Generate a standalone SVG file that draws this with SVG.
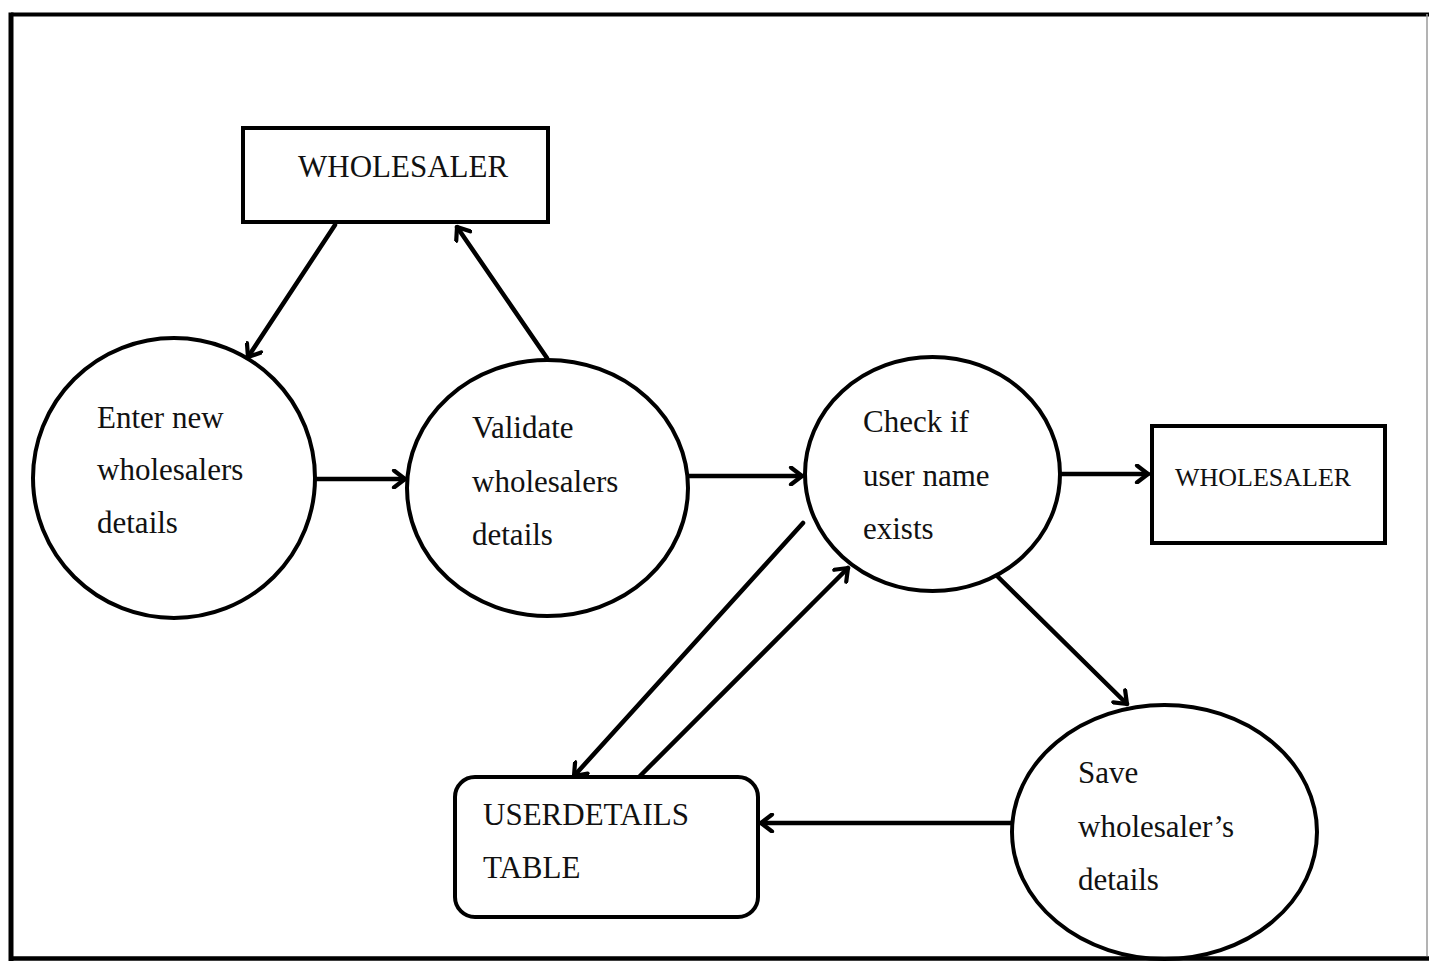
<svg xmlns="http://www.w3.org/2000/svg" width="1429" height="961" viewBox="0 0 1429 961">
  <style>
    .shape { fill: #ffffff; stroke: #000000; stroke-width: 4; }
    .flow { fill: none; stroke: #000000; stroke-width: 4.5; stroke-linecap: round; }
    .label { font-family: "Liberation Serif", "Times New Roman", serif; font-size: 31px; fill: #111111; }
    .small { font-size: 26px; }
  </style>
  <defs>
    <marker id="arrow" viewBox="0 0 20 20" refX="15" refY="10" markerWidth="20" markerHeight="20" markerUnits="userSpaceOnUse" orient="auto">
      <path d="M4,1.5 L15,10 L4,18.5" fill="none" stroke="#000000" stroke-width="4.2" stroke-linecap="round" stroke-linejoin="round"/>
    </marker>
  </defs>

  <rect x="0" y="0" width="1429" height="961" fill="#ffffff"/>

  <!-- page frame -->
  <g id="frame">
    <line x1="11" y1="14.5" x2="1429" y2="14.5" stroke="#000000" stroke-width="4"/>
    <line x1="11" y1="12.5" x2="11" y2="961" stroke="#000000" stroke-width="5"/>
    <line x1="11" y1="958.5" x2="1429" y2="958.5" stroke="#000000" stroke-width="4"/>
    <line x1="1427" y1="14" x2="1427" y2="958" stroke="#9a9a9a" stroke-width="1.5"/>
  </g>

  <!-- connectors -->
  <g id="connectors">
    <line class="flow" x1="335" y1="225" x2="248" y2="357" marker-end="url(#arrow)"/>
    <line class="flow" x1="547" y1="358" x2="457" y2="227" marker-end="url(#arrow)"/>
    <line class="flow" x1="316" y1="479" x2="405" y2="479" marker-end="url(#arrow)"/>
    <line class="flow" x1="689" y1="476" x2="802" y2="476" marker-end="url(#arrow)"/>
    <line class="flow" x1="1061" y1="474" x2="1148" y2="474" marker-end="url(#arrow)"/>
    <line class="flow" x1="803" y1="523" x2="574" y2="776" marker-end="url(#arrow)"/>
    <line class="flow" x1="640" y1="776" x2="848" y2="568" marker-end="url(#arrow)"/>
    <line class="flow" x1="990" y1="569" x2="1127" y2="704" marker-end="url(#arrow)"/>
    <line class="flow" x1="1012" y1="823" x2="761" y2="823" marker-end="url(#arrow)"/>
  </g>

  <g id="wholesaler-top">
    <rect class="shape" x="243" y="128" width="305" height="94"/>
    <text class="label" x="298" y="177">WHOLESALER</text>
  </g>

  <g id="enter-details">
    <ellipse class="shape" cx="174" cy="478" rx="141" ry="140"/>
    <text class="label" x="97" y="428">Enter new</text>
    <text class="label" x="97" y="480">wholesalers</text>
    <text class="label" x="97" y="533">details</text>
  </g>

  <g id="validate-details">
    <ellipse class="shape" cx="547.5" cy="488" rx="140.5" ry="128"/>
    <text class="label" x="472" y="438">Validate</text>
    <text class="label" x="472" y="492">wholesalers</text>
    <text class="label" x="472" y="545">details</text>
  </g>

  <g id="check-username">
    <ellipse class="shape" cx="932.5" cy="474" rx="127.5" ry="117"/>
    <text class="label" x="863" y="432">Check if</text>
    <text class="label" x="863" y="486">user name</text>
    <text class="label" x="863" y="539">exists</text>
  </g>

  <g id="wholesaler-right">
    <rect class="shape" x="1152" y="426" width="233" height="117"/>
    <text class="label small" x="1175" y="486">WHOLESALER</text>
  </g>

  <g id="userdetails-table">
    <rect class="shape" x="455" y="777" width="303" height="140" rx="20" ry="20"/>
    <text class="label" x="483" y="825">USERDETAILS</text>
    <text class="label" x="483" y="878">TABLE</text>
  </g>

  <g id="save-details">
    <ellipse class="shape" cx="1164.5" cy="832" rx="152.5" ry="127"/>
    <text class="label" x="1078" y="783">Save</text>
    <text class="label" x="1078" y="837">wholesaler’s</text>
    <text class="label" x="1078" y="890">details</text>
  </g>

  <!-- bottom frame edge drawn over the clipped ellipse -->
  <line x1="11" y1="958.5" x2="1429" y2="958.5" stroke="#000000" stroke-width="4"/>
</svg>
